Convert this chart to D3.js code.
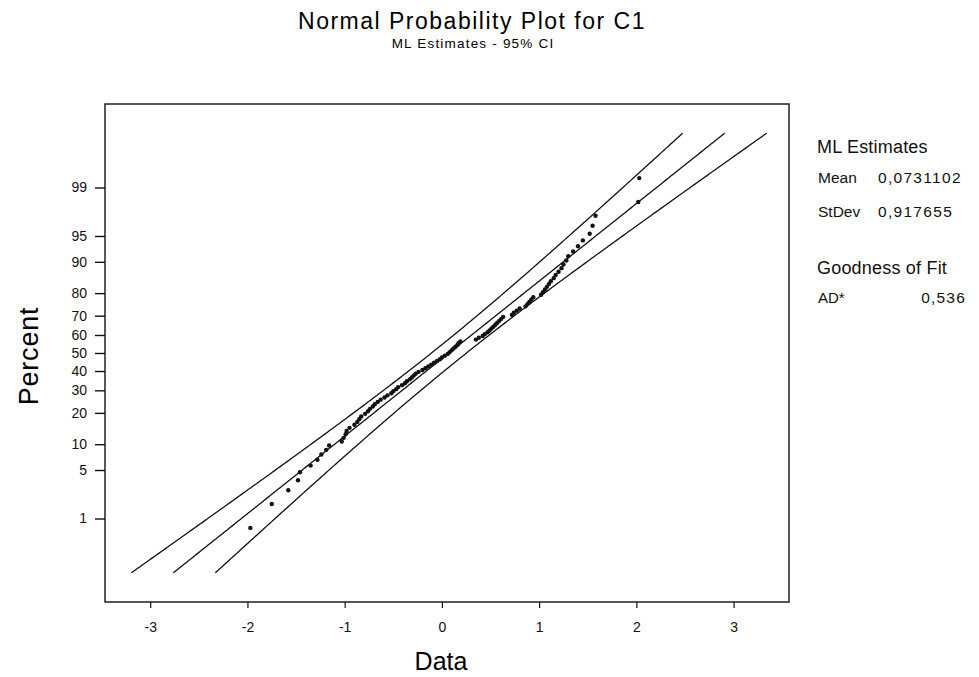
<!DOCTYPE html>
<html>
<head>
<meta charset="utf-8">
<script src="https://cdn.jsdelivr.net/npm/d3@7"></script>
<style>
  body { margin: 0; background: #fff; }
  svg { font-family: "Liberation Sans", Arial, Helvetica, sans-serif; }
</style>
</head>
<body>
<svg id="chart"></svg>
<script>
"use strict";

const WIDTH = 979;
const HEIGHT = 677;

// sorted sample (C1)
const sample = [
  -1.97, -1.75, -1.58, -1.48, -1.46, -1.35, -1.28, -1.24, -1.19, -1.16,
  -1.03, -1.01, -0.99, -0.98, -0.95, -0.90, -0.87, -0.85, -0.83, -0.79,
  -0.76, -0.74, -0.71, -0.69, -0.66, -0.63, -0.59, -0.56, -0.52, -0.50,
  -0.47, -0.45, -0.41, -0.38, -0.36, -0.33, -0.31, -0.29, -0.27, -0.24,
  -0.20, -0.17, -0.14, -0.11, -0.08, -0.05, -0.02, 0.00, 0.03, 0.06,
  0.08, 0.10, 0.12, 0.14, 0.16, 0.17, 0.19, 0.35, 0.38, 0.42,
  0.44, 0.47, 0.49, 0.51, 0.53, 0.55, 0.57, 0.59, 0.61, 0.63,
  0.72, 0.74, 0.77, 0.80, 0.86, 0.88, 0.90, 0.92, 0.94, 1.02,
  1.04, 1.06, 1.08, 1.10, 1.12, 1.15, 1.17, 1.20, 1.23, 1.25,
  1.28, 1.30, 1.35, 1.40, 1.45, 1.52, 1.55, 1.58, 2.02, 2.03
];

const percentTicks = [1, 5, 10, 20, 30, 40, 50, 60, 70, 80, 90, 95, 99];
const dataTicks = [-3, -2, -1, 0, 1, 2, 3];

const mlMean = 0.0731102;
const mlStDev = 0.917655;
const adValue = 0.536;

const statRows = [
  {label: 'Mean', value: '0,0731102'},
  {label: 'StDev', value: '0,917655'}
];

// inverse normal cdf (Acklam)
function qnorm(p){
  const a = [-3.969683028665376e+01, 2.209460984245205e+02, -2.759285104469687e+02, 1.383577518672690e+02, -3.066479806614716e+01, 2.506628277459239e+00];
  const b = [-5.447609879822406e+01, 1.615858368580409e+02, -1.556989798598866e+02, 6.680131188771972e+01, -1.328068155288572e+01];
  const c = [-7.784894002430293e-03, -3.223964580411365e-01, -2.400758277161838e+00, -2.549732539343734e+00, 4.374664141464968e+00, 2.938163982698783e+00];
  const d = [7.784695709041462e-03, 3.224671290700398e-01, 2.445134137142996e+00, 3.754408661907416e+00];
  const pl = 0.02425;
  if(p < pl){
    const q = Math.sqrt(-2 * Math.log(p));
    return (((((c[0]*q+c[1])*q+c[2])*q+c[3])*q+c[4])*q+c[5]) / ((((d[0]*q+d[1])*q+d[2])*q+d[3])*q+1);
  }
  if(p <= 1 - pl){
    const q = p - 0.5, r = q*q;
    return (((((a[0]*r+a[1])*r+a[2])*r+a[3])*r+a[4])*r+a[5])*q / (((((b[0]*r+b[1])*r+b[2])*r+b[3])*r+b[4])*r+1);
  }
  const q = Math.sqrt(-2 * Math.log(1 - p));
  return -(((((c[0]*q+c[1])*q+c[2])*q+c[3])*q+c[4])*q+c[5]) / ((((d[0]*q+d[1])*q+d[2])*q+d[3])*q+1);
}

const margin = {top: 104, right: 190, bottom: 75, left: 105};
const plotW = WIDTH - margin.left - margin.right;
const plotH = HEIGHT - margin.top - margin.bottom;

const svg = d3.select('#chart')
    .attr('width', WIDTH)
    .attr('height', HEIGHT);

const x = d3.scaleLinear()
    .domain([-3.465, 3.57])
    .range([margin.left, margin.left + plotW]);

// y runs on the normal-score scale
const y = d3.scaleLinear()
    .domain([-3.5, 3.5])
    .range([margin.top + plotH, margin.top]);

// title
svg.append('text')
    .attr('x', 472)
    .attr('y', 29)
    .attr('text-anchor', 'middle')
    .style('font-size', '23px')
    .style('letter-spacing', '1.5px')
    .text('Normal Probability Plot for C1');

svg.append('text')
    .attr('x', 473)
    .attr('y', 48)
    .attr('text-anchor', 'middle')
    .style('font-size', '13.5px')
    .style('letter-spacing', '1.2px')
    .text('ML Estimates - 95% CI');

// frame
svg.append('rect')
    .attr('x', margin.left)
    .attr('y', margin.top)
    .attr('width', plotW)
    .attr('height', plotH)
    .attr('fill', 'none')
    .attr('stroke', '#111')
    .attr('stroke-width', 1.4);

// axes
const yAxis = d3.axisLeft(y)
    .tickValues(percentTicks.map(p => qnorm(p / 100)))
    .tickFormat((d, i) => String(percentTicks[i]))
    .tickSize(10)
    .tickPadding(8);

svg.append('g')
    .attr('transform', `translate(${margin.left},0)`)
    .call(yAxis)
    .call(g => g.select('.domain').remove())
    .call(g => g.selectAll('line').attr('stroke', '#111').attr('stroke-width', 1.4))
    .call(g => g.selectAll('text').style('font-size', '14px').attr('fill', '#111'));

const xAxis = d3.axisBottom(x)
    .tickValues(dataTicks)
    .tickFormat(d => String(d))
    .tickSize(6)
    .tickPadding(14);

svg.append('g')
    .attr('transform', `translate(0,${margin.top + plotH})`)
    .call(xAxis)
    .call(g => g.select('.domain').remove())
    .call(g => g.selectAll('line').attr('stroke', '#111').attr('stroke-width', 1.2))
    .call(g => g.selectAll('text').style('font-size', '14px').attr('fill', '#111'));

svg.append('text')
    .attr('x', 441)
    .attr('y', 670)
    .attr('text-anchor', 'middle')
    .style('font-size', '25px')
    .text('Data');

svg.append('text')
    .attr('transform', 'translate(38,356) rotate(-90)')
    .attr('text-anchor', 'middle')
    .style('font-size', '27px')
    .style('letter-spacing', '0.8px')
    .text('Percent');

// fitted line and 95% CI bands
const n = sample.length;
const zLine = d3.range(-3.09, 3.0901, 0.03);
const ciHalf = z => 1.959964 * mlStDev * Math.sqrt(1 / n + z * z / (2 * n));

const bands = [
  zLine.map(z => [mlMean + mlStDev * z - ciHalf(z), z]),
  zLine.map(z => [mlMean + mlStDev * z, z]),
  zLine.map(z => [mlMean + mlStDev * z + ciHalf(z), z])
];

const line = d3.line()
    .x(d => x(d[0]))
    .y(d => y(d[1]));

svg.append('g')
    .selectAll('path')
    .data(bands)
    .join('path')
    .attr('d', line)
    .attr('fill', 'none')
    .attr('stroke', '#111')
    .attr('stroke-width', 1.3);

// points at median-rank plotting positions
const points = sample.map((v, i) => [v, qnorm((i + 1 - 0.3) / (n + 0.4))]);

svg.append('g')
    .selectAll('circle')
    .data(points)
    .join('circle')
    .attr('cx', d => x(d[0]))
    .attr('cy', d => y(d[1]))
    .attr('r', 2.2)
    .attr('fill', '#111');

// right hand panel
const panel = svg.append('g')
    .attr('fill', '#111');

panel.append('text')
    .attr('x', 817)
    .attr('y', 153)
    .style('font-size', '18px')
    .style('letter-spacing', '0.2px')
    .text('ML Estimates');

const rows = panel.selectAll('g.row')
    .data(statRows)
    .join('g')
    .attr('class', 'row')
    .attr('transform', (d, i) => `translate(0,${183 + i * 34})`);

rows.append('text')
    .attr('x', 818)
    .style('font-size', '15.5px')
    .text(d => d.label);

rows.append('text')
    .attr('x', 878)
    .style('font-size', '15.5px')
    .style('letter-spacing', '1.3px')
    .text(d => d.value);

panel.append('text')
    .attr('x', 817)
    .attr('y', 274)
    .style('font-size', '18px')
    .style('letter-spacing', '0.2px')
    .text('Goodness of Fit');

panel.append('text')
    .attr('x', 818)
    .attr('y', 303)
    .style('font-size', '15px')
    .text('AD*');

panel.append('text')
    .attr('x', 966)
    .attr('y', 303)
    .attr('text-anchor', 'end')
    .style('font-size', '15.5px')
    .style('letter-spacing', '1.2px')
    .text(d3.format('.3f')(adValue).replace('.', ','));
</script>
</body>
</html>
